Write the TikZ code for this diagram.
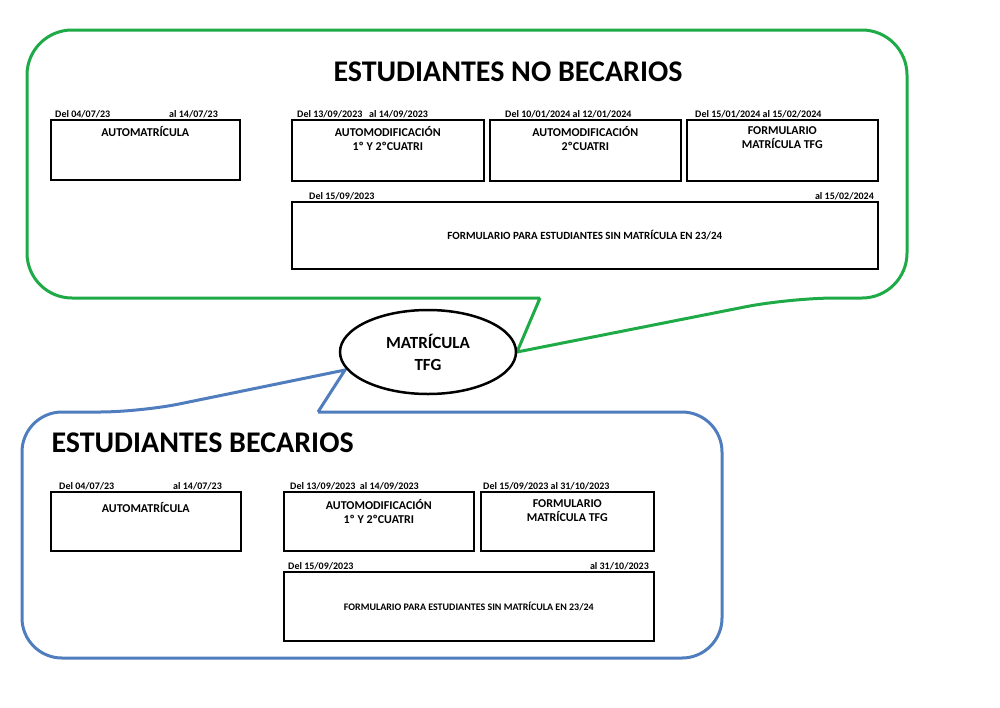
\documentclass[tikz,border=0pt]{standalone}
\usepackage{fontspec}
\setmainfont{Carlito}
\usetikzlibrary{positioning,shapes.geometric}

\tikzset{
  caja/.style={draw, line width=1.6pt, anchor=north west, inner sep=0pt},
  fecha/.style={font=\bfseries\fontsize{10}{11}\selectfont, anchor=south west, inner sep=1pt},
  texto/.style={font=\bfseries\fontsize{12}{14}\selectfont, align=center},
  titulo/.style={font=\bfseries\fontsize{30}{34}\selectfont},
}

\begin{document}
\begin{tikzpicture}[x=1pt,y=-1pt]
	\useasboundingbox (0,0) rectangle (1000,707);
	
	% bocadillo verde
	\draw[line width=3pt, color={rgb,255:red,30;green,170;blue,70}, rounded corners=45pt]
		(540,298) -- (27,298) -- (27,30) -- (907,30) -- (907,298) -- (790,298) [sharp corners] -- (517,352) -- (540,298);
	% bocadillo azul
	\draw[line width=3pt, color={rgb,255:red,80;green,125;blue,190}, rounded corners=40pt]
		(318,412) -- (722,412) -- (722,658) -- (22,658) -- (22,412) -- (140,412) [sharp corners] -- (345,370) -- (318,412);
	
	% elipse central
	\node[draw, line width=2.5pt, fill=white, ellipse, minimum width=176pt, minimum height=84pt, texto, font=\bfseries\fontsize{17}{20}\selectfont] (mat) at (428,352) {MATRÍCULA\\[2pt]TFG};
	
	% no becarios
	\node[titulo] (tnb) at (508,72) {ESTUDIANTES NO BECARIOS};
	\node[caja, minimum width=189pt, minimum height=60pt] (nb1) at (50,119) {};
	\node[texto, below=4pt of nb1.north] {AUTOMATRÍCULA};
	\node[fecha] at (54,119) {Del 04/07/23};
	\node[fecha] at (168,119) {al 14/07/23};
	\node[caja, minimum width=192pt, minimum height=61pt] (nb2) at (291,119) {};
	\node[texto, below=4pt of nb2.north] {AUTOMODIFICACIÓN\\1º Y 2ºCUATRI};
	\node[fecha] at (296,119) {Del 13/09/2023 \ \ al 14/09/2023};
	\node[caja, minimum width=191pt, minimum height=61pt] (nb3) at (489,119) {};
	\node[texto, below=4pt of nb3.north] {AUTOMODIFICACIÓN\\2ºCUATRI};
	\node[fecha] at (504,119) {Del 10/01/2024 al 12/01/2024};
	\node[caja, minimum width=191pt, minimum height=61pt] (nb4) at (686,119) {};
	\node[texto, below=4pt of nb4.north] {FORMULARIO\\MATRÍCULA TFG};
	\node[fecha] at (694,119) {Del 15/01/2024 al 15/02/2024};
	\node[caja, minimum width=586pt, minimum height=67pt] (nb5) at (291,201) {};
	\node[texto, font=\bfseries\fontsize{11}{13}\selectfont] at (nb5.center) {FORMULARIO PARA ESTUDIANTES SIN MATRÍCULA EN 23/24};
	\node[fecha] at (308,201) {Del 15/09/2023};
	\node[fecha, anchor=south east] at (875,201) {al 15/02/2024};
	
	% becarios
	\node[titulo, anchor=west] (tb) at (48,443) {ESTUDIANTES BECARIOS};
	\node[caja, minimum width=190pt, minimum height=59pt] (b1) at (50,491) {};
	\node[texto, below=8pt of b1.north] {AUTOMATRÍCULA};
	\node[fecha] at (58,491) {Del 04/07/23};
	\node[fecha] at (172,491) {al 14/07/23};
	\node[caja, minimum width=190pt, minimum height=59pt] (b2) at (283,491) {};
	\node[texto, below=5pt of b2.north] {AUTOMODIFICACIÓN\\1º Y 2ºCUATRI};
	\node[fecha] at (289,491) {Del 13/09/2023 \ al 14/09/2023};
	\node[caja, minimum width=173pt, minimum height=59pt] (b3) at (480,491) {};
	\node[texto, below=5pt of b3.north] {FORMULARIO\\MATRÍCULA TFG};
	\node[fecha] at (482,491) {Del 15/09/2023 al 31/10/2023};
	\node[caja, minimum width=370pt, minimum height=69pt] (b5) at (283,571) {};
	\node[texto, font=\bfseries\fontsize{10}{12}\selectfont] at (b5.center) {FORMULARIO PARA ESTUDIANTES SIN MATRÍCULA EN 23/24};
	\node[fecha] at (287,571) {Del 15/09/2023};
	\node[fecha, anchor=south east] at (650,571) {al 31/10/2023};
\end{tikzpicture}
\end{document}
